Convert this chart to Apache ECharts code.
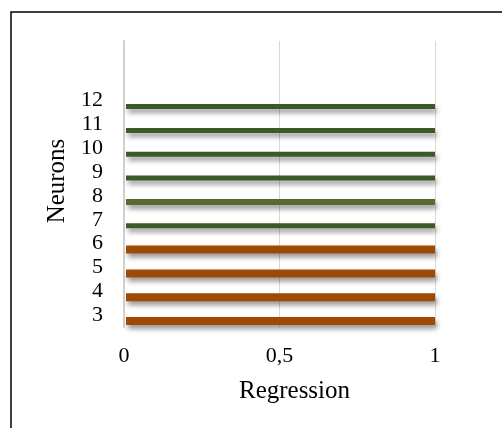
<!DOCTYPE html>
<html>
<head>
<meta charset="utf-8">
<script src="https://cdn.jsdelivr.net/npm/echarts@6/dist/echarts.min.js"></script>
<style>html,body{margin:0;padding:0;background:#fff;overflow:hidden;}#c{width:502px;height:428px;}</style>
</head>
<body>
<div id="c"></div>
<script>
// Data
const neurons = ['3', '4', '5', '6', '7', '8', '9', '10', '11', '12'];
const regression = [1, 1, 1, 1, 1, 1, 1, 1, 1, 1];
const groups = ['a', 'a', 'a', 'a', 'b', 'c', 'b', 'b', 'b', 'b'];
const xTicks = [0, 0.5, 1];

const groupStyle = {
  a: { color: '#9c4a06', h: 8 },
  b: { color: '#3d5927', h: 5 },
  c: { color: '#5a6a2f', h: 6 }
};
const font = 'Liberation Serif';

const chart = echarts.init(document.getElementById('c'), null, { renderer: 'canvas' });
const yData = neurons.concat([' ', '  ']);
chart.setOption({
  animation: false,
  backgroundColor: '#fff',
  graphic: [{
    type: 'polyline', z: 100, silent: true,
    shape: { points: [[11, 428], [11, 12], [502, 12]] },
    style: { fill: null, stroke: '#000', lineWidth: 1.5 }
  }],
  grid: { left: 124, right: 67, top: 41, bottom: 101 },
  xAxis: {
    type: 'value', min: xTicks[0], max: xTicks[xTicks.length - 1], interval: xTicks[1] - xTicks[0],
    axisLine: { show: false }, axisTick: { show: false },
    splitLine: { lineStyle: { color: '#d9d9d9', width: 1 } },
    axisLabel: { formatter: v => String(v).replace('.', ','), fontFamily: font, fontSize: 22, color: '#000', margin: 18 },
    name: 'Regression', nameLocation: 'middle', nameGap: 52,
    nameTextStyle: { fontFamily: font, fontSize: 25, color: '#000', padding: [0, 0, 0, 30] }
  },
  yAxis: {
    type: 'category', data: yData,
    axisTick: { show: false },
    axisLine: { show: true, lineStyle: { color: '#d0d0d0', width: 2 } },
    axisLabel: { fontFamily: font, fontSize: 22, color: '#000', margin: 21, interval: 0 },
    name: 'Neurons', nameLocation: 'middle', nameGap: 53,
    nameTextStyle: { fontFamily: font, fontSize: 25, color: '#000', padding: [0, 0, 0, 6] }
  },
  series: [{
    type: 'custom',
    encode: { x: 0, y: 1 },
    data: regression.map((v, i) => [v, i]),
    renderItem: function (params, api) {
      const v = api.value(0), c = api.value(1);
      const st = groupStyle[groups[c]];
      const p0 = api.coord([0, c]);
      const p1 = api.coord([v, c]);
      const cy = p0[1] + 6;
      return {
        type: 'rect',
        shape: { x: p0[0] + 2, y: cy - st.h / 2, width: p1[0] - p0[0] - 2, height: st.h },
        style: { fill: st.color, shadowColor: 'rgba(0,0,0,0.4)', shadowBlur: 5, shadowOffsetX: 2, shadowOffsetY: 4 }
      };
    }
  }]
});
</script>
</body>
</html>
